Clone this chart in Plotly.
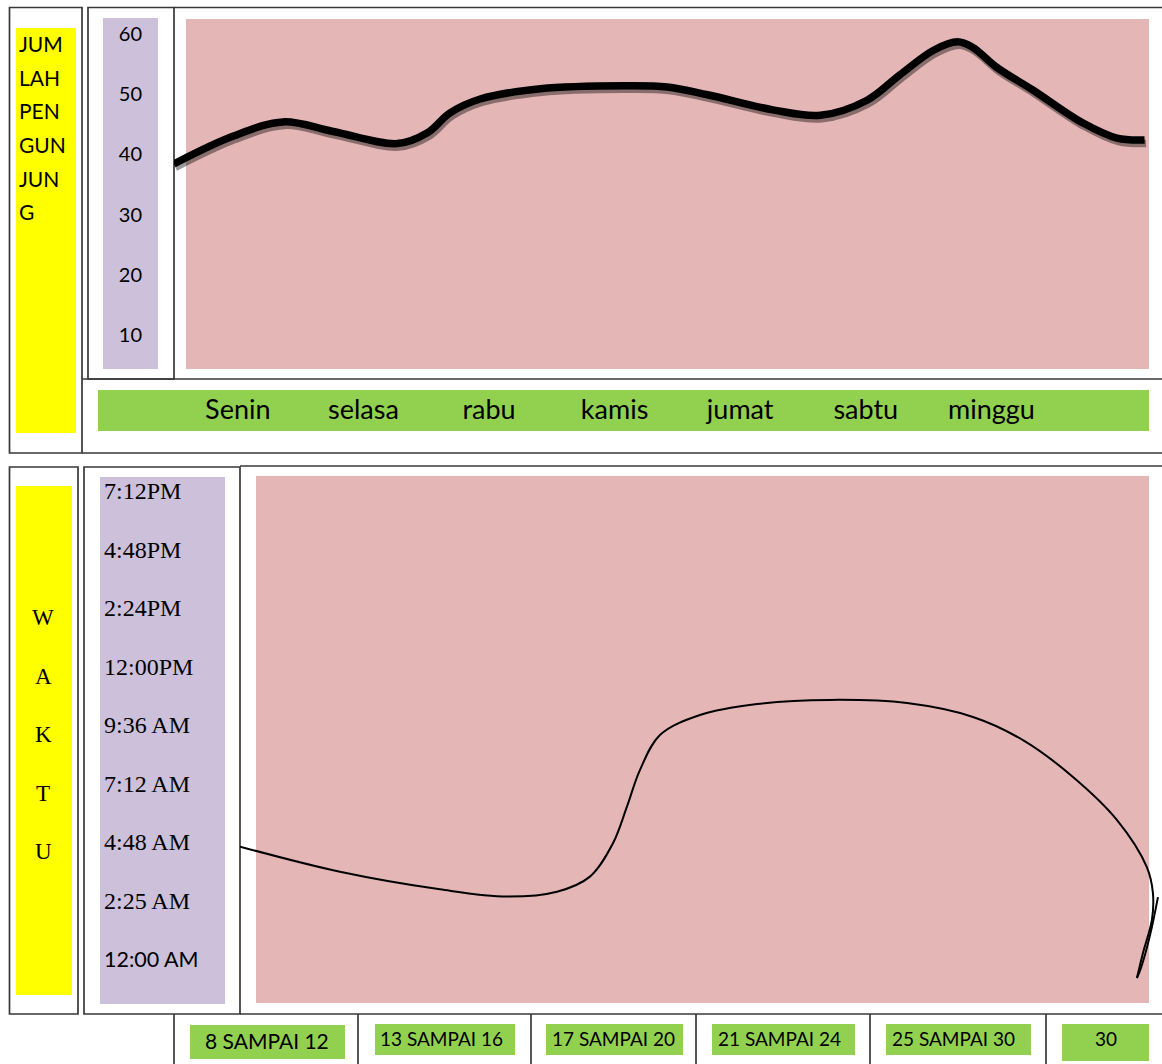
import plotly.graph_objects as go

W, H = 1162, 1064


def X(px):
    return px / W


def Y(py):
    return 1 - py / H


# ---- data: jumlah pengunjung per hari ----
hari = ["Senin", "selasa", "rabu", "kamis", "jumat", "sabtu", "minggu"]
pengunjung_ticks = [10, 20, 30, 40, 50, 60]
pengunjung_hari = [-0.51, -0.04, 0.36, 0.76, 1.27, 1.51, 1.69, 1.93, 2.41, 3.07, 3.42, 3.74,
                   4.26, 4.64, 5.01, 5.27, 5.54, 5.73, 5.85, 6.04, 6.33, 6.73, 7.00, 7.22]
pengunjung_jumlah = [38.4, 43.0, 45.4, 43.8, 41.8, 43.6, 46.9, 49.2, 50.9, 51.4, 51.2, 49.9,
                     47.4, 46.5, 49.0, 53.2, 57.3, 58.7, 57.8, 54.5, 50.7, 45.2, 42.7, 42.4]
judul_atas = ["JUM", "LAH", "PEN", "GUN", "JUN", "G"]

# ---- data: waktu kunjungan per rentang tanggal ----
rentang = ["8 SAMPAI 12", "13 SAMPAI 16", "17 SAMPAI 20", "21 SAMPAI 24", "25 SAMPAI 30", "30"]
waktu_jam = [0, 2.4, 4.8, 7.2, 9.6, 12, 14.4, 16.8, 19.2]
waktu_label = ["<span style='font-family:Lato;font-size:21.5px'>12:00 AM</span>", "2:25 AM", "4:48 AM",
               "7:12 AM", "9:36 AM", "12:00PM", "2:24PM", "4:48PM", "7:12PM"]
waktu_x = [-0.185, 0.409, 1.003, 1.401, 1.698, 1.894, 2.031, 2.114, 2.191, 2.310, 2.548, 2.887,
           3.320, 3.778, 4.170, 4.467, 4.764, 5.026, 5.203, 5.239, 5.233, 5.180, 5.144]
waktu_y = [4.61, 3.58, 2.86, 2.56, 2.76, 3.38, 4.75, 6.25, 7.75, 9.19, 10.01, 10.46,
           10.63, 10.50, 9.93, 8.98, 7.47, 5.70, 3.77, 2.71, 1.60, 0.25, -0.78]
coretan_x = [5.269, 5.222, 5.168, 5.144]
coretan_y = [2.54, 0.98, -0.37, -0.78]
judul_bawah = ["W", "A", "K", "T", "U"]

YELLOW = "#FFFF00"
LAVENDER = "#CCC0DA"
PINK = "#E5B6B6"
GREEN = "#92D050"
FRAME = "#383838"

fig = go.Figure()

# soft drop shadow under the visitor curve (same data, nudged axes)
fig.add_trace(go.Scatter(x=pengunjung_hari, y=pengunjung_jumlah, mode="lines",
                         line=dict(color="rgba(0,0,0,0.4)", width=7.5, shape="spline", smoothing=1.0),
                         xaxis="x", yaxis="y", hoverinfo="skip", showlegend=False))
fig.add_trace(go.Scatter(x=pengunjung_hari, y=pengunjung_jumlah, mode="lines",
                         line=dict(color="black", width=7.5, shape="spline", smoothing=1.0),
                         xaxis="x2", yaxis="y2", showlegend=False))
fig.add_trace(go.Scatter(x=waktu_x, y=waktu_y, mode="lines",
                         line=dict(color="black", width=2, shape="spline", smoothing=1.0),
                         xaxis="x3", yaxis="y3", showlegend=False))
fig.add_trace(go.Scatter(x=coretan_x, y=coretan_y, mode="lines",
                         line=dict(color="black", width=2, shape="spline", smoothing=1.0),
                         xaxis="x3", yaxis="y3", showlegend=False))

hidden = dict(showgrid=False, zeroline=False, showline=False, showticklabels=False, ticks="")

top_xrange = [-0.508, 7.263]
top_yrange = [4.35, 62.49]
dx, dy = 1.5, 3.5

fig.update_layout(
    width=W, height=H,
    margin=dict(l=0, r=0, t=0, b=0),
    paper_bgcolor="white", plot_bgcolor="rgba(0,0,0,0)",
    showlegend=False,
    xaxis=dict(domain=[X(174 + dx), X(1150 + dx)], range=top_xrange, anchor="y", **hidden),
    yaxis=dict(domain=[Y(369 + dy), Y(19 + dy)], range=top_yrange, anchor="x", **hidden),
    xaxis2=dict(domain=[X(174), X(1150)], range=top_xrange, anchor="free", position=Y(391),
                tickmode="array", tickvals=list(range(len(hari))), ticktext=hari,
                tickfont=dict(family="Lato", size=27, color="black"),
                showgrid=False, zeroline=False, showline=False, ticks=""),
    yaxis2=dict(domain=[Y(369), Y(19)], range=top_yrange, anchor="free", position=X(142),
                tickmode="array", tickvals=pengunjung_ticks, ticktext=[str(v) for v in pengunjung_ticks],
                tickfont=dict(family="Lato", size=20, color="black"),
                showgrid=False, zeroline=False, showline=False, ticks=""),
    xaxis3=dict(domain=[X(240), 1.0], range=[-0.185, 5.293], anchor="y3", **hidden),
    yaxis3=dict(domain=[Y(1003), Y(476)], range=[-1.805, 19.815], anchor="free", position=X(100),
                tickmode="array", tickvals=waktu_jam, ticktext=waktu_label, ticklabelposition="inside",
                tickfont=dict(family="Liberation Serif", size=24, color="black"),
                showgrid=False, zeroline=False, showline=False, ticks=""),
)

shapes = []


def rect(x0, y0, x1, y1, fill):
    shapes.append(dict(type="rect", xref="paper", yref="paper", x0=X(x0), x1=X(x1), y0=Y(y1), y1=Y(y0),
                       fillcolor=fill, line=dict(width=0), layer="below"))


def box(x0, y0, x1, y1):
    shapes.append(dict(type="rect", xref="paper", yref="paper", x0=X(x0), x1=X(x1), y0=Y(y1), y1=Y(y0),
                       fillcolor="rgba(0,0,0,0)", line=dict(color=FRAME, width=1.7), layer="below"))


def line(x0, y0, x1, y1):
    shapes.append(dict(type="line", xref="paper", yref="paper", x0=X(x0), x1=X(x1), y0=Y(y0), y1=Y(y1),
                       line=dict(color=FRAME, width=1.7), layer="below"))


# upper panel
rect(16, 28, 76, 433, YELLOW)
rect(103, 18, 158, 369, LAVENDER)
rect(186, 19, 1149, 369, PINK)
rect(98, 390, 1149, 431, GREEN)
box(9.5, 7.5, 82, 453)
box(88, 7.5, 174, 379)
line(174, 7.5, 1162, 7.5)
line(82, 379, 1162, 379)
line(82, 453, 1162, 453)

# lower panel
rect(16, 486, 72, 995, YELLOW)
rect(100, 477, 225, 1004, LAVENDER)
rect(256, 476, 1149, 1003, PINK)
box(9.5, 467, 78, 1014)
box(84, 467, 240, 1014)
line(240, 466, 1162, 466)
line(240, 1014, 1162, 1014)
for vx in [174, 358, 531, 696, 870, 1046]:
    line(vx, 1014, vx, 1066)

cells = [(190, 1025, 345, 1059), (375, 1024, 515, 1055), (546, 1024, 683, 1055),
         (712, 1024, 855, 1055), (886, 1024, 1031, 1055), (1062, 1024, 1149, 1061)]
for c in cells:
    rect(*c, GREEN)

fig.update_layout(shapes=shapes)

ann = []
for i, t in enumerate(judul_atas):
    ann.append(dict(text=t, x=X(17), y=Y(43.7 + i * 33.6), xanchor="left", yanchor="middle",
                    font=dict(family="Lato", size=21, color="black")))
for i, t in enumerate(judul_bawah):
    ann.append(dict(text=t, x=X(43), y=Y(617.5 + i * 58.5), xanchor="center", yanchor="middle",
                    font=dict(family="Liberation Serif", size=23, color="black")))

# range labels inside the green table cells
label_pos = [(267, 1040, "center", 21), (378, 1038, "left", 19), (550, 1038, "left", 19),
             (716, 1038, "left", 19), (890, 1038, "left", 19), (1105.5, 1038, "center", 19)]
for t, (lx, ly, anc, sz) in zip(rentang, label_pos):
    ann.append(dict(text=t, x=X(lx), y=Y(ly), xanchor=anc, yanchor="middle",
                    font=dict(family="Lato", size=sz, color="black")))

for a in ann:
    a.update(xref="paper", yref="paper", showarrow=False)
fig.update_layout(annotations=ann)

fig.write_html("out.html")
